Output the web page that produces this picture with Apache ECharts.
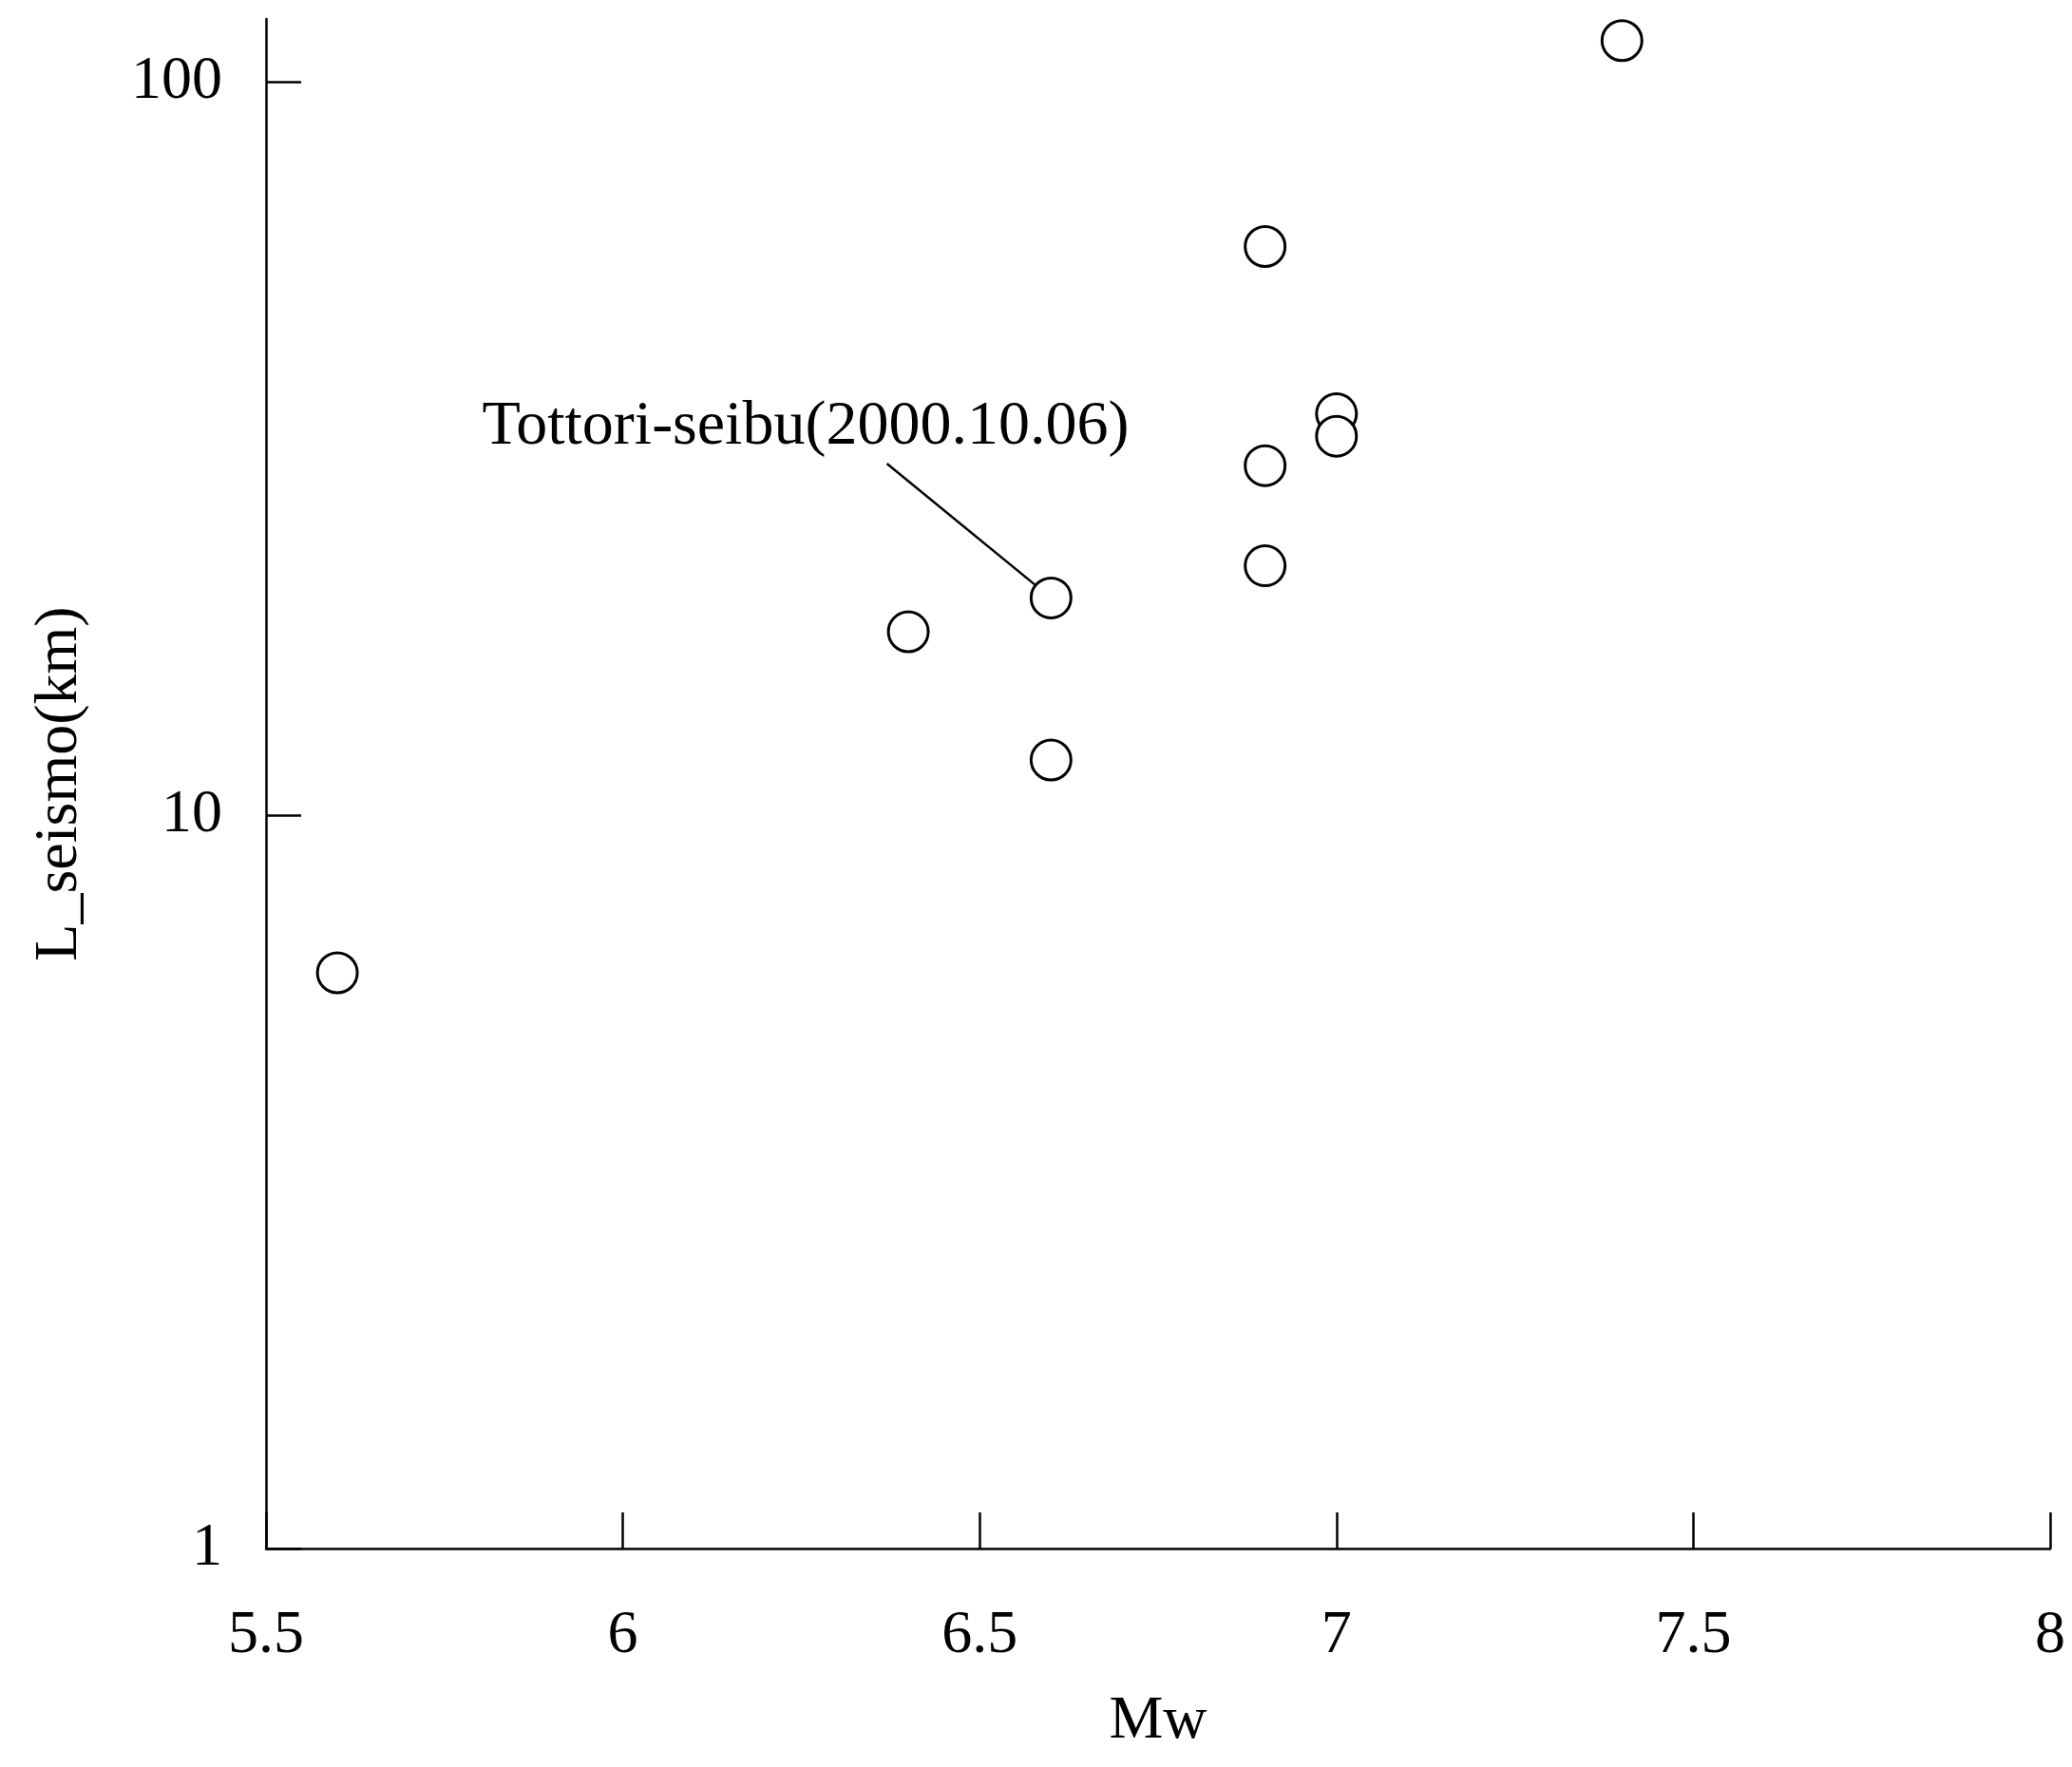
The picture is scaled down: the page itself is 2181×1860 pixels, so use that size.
<!DOCTYPE html>
<html>
<head>
<meta charset="utf-8">
<script src="https://cdn.jsdelivr.net/npm/echarts@6/dist/echarts.min.js"></script>
<style>
html,body{margin:0;padding:0;background:#fff;}
#chart{width:2181px;height:1860px;}
</style>
</head>
<body>
<div id="chart"></div>
<script>
// Data
var mw = [5.6, 6.4, 6.6, 6.6, 6.9, 6.9, 6.9, 7.0, 7.0, 7.4];
var lSeismo = [6.1, 17.8, 19.8, 11.9, 59.7, 30.0, 21.9, 35.3, 32.9, 114];
var xTicks = [5.5, 6, 6.5, 7, 7.5, 8];
var yTicks = [1, 10, 100];
var annotationText = 'Tottori-seibu(2000.10.06)';
var annotatedIndex = 2;

var FONT = 'Liberation Serif';
var points = mw.map(function (x, i) { return [x, lSeismo[i]]; });

var chart = echarts.init(document.getElementById('chart'), null, {renderer: 'canvas'});
chart.setOption({
  backgroundColor: '#ffffff',
  animation: false,
  grid: {left: 280, right: 23, top: 20, bottom: 230, containLabel: false},
  xAxis: {
    type: 'value', min: 5.5, max: 8, interval: 0.5,
    name: 'Mw', nameLocation: 'middle', nameGap: 150,
    nameTextStyle: {fontFamily: FONT, fontSize: 64, color: '#000'},
    axisLine: {show: true, lineStyle: {color: '#000', width: 2.5}},
    axisTick: {show: true, inside: true, length: 38, lineStyle: {color: '#000', width: 2.5}},
    axisLabel: {fontFamily: FONT, fontSize: 64, color: '#000', margin: 60},
    splitLine: {show: false}
  },
  yAxis: {
    type: 'log', logBase: 10, min: 1, max: 122,
    name: 'L_seismo(km)', nameLocation: 'middle', nameGap: 185, nameRotate: 90,
    nameTextStyle: {fontFamily: FONT, fontSize: 64, color: '#000'},
    axisLine: {show: true, lineStyle: {color: '#000', width: 2.5}},
    axisTick: {show: true, inside: true, length: 37, customValues: yTicks, lineStyle: {color: '#000', width: 2.5}},
    axisLabel: {fontFamily: FONT, fontSize: 64, color: '#000', margin: 46, customValues: yTicks},
    splitLine: {show: false}
  },
  series: [
    {
      type: 'line', z: 1, symbol: 'none', silent: true,
      data: [[6.37, 30.2], points[annotatedIndex]],
      lineStyle: {color: '#000', width: 2.5}
    },
    {
      type: 'scatter', z: 3,
      symbol: 'circle', symbolSize: 42,
      itemStyle: {color: '#ffffff', borderColor: '#000', borderWidth: 3, opacity: 1},
      data: points
    },
    {
      type: 'scatter', z: 4, symbolSize: 0, silent: true,
      data: [[6.256, 33.8]],
      itemStyle: {opacity: 1},
      label: {show: true, position: 'inside', formatter: annotationText,
        fontFamily: FONT, fontSize: 66, color: '#000'}
    }
  ]
});
</script>
</body>
</html>
